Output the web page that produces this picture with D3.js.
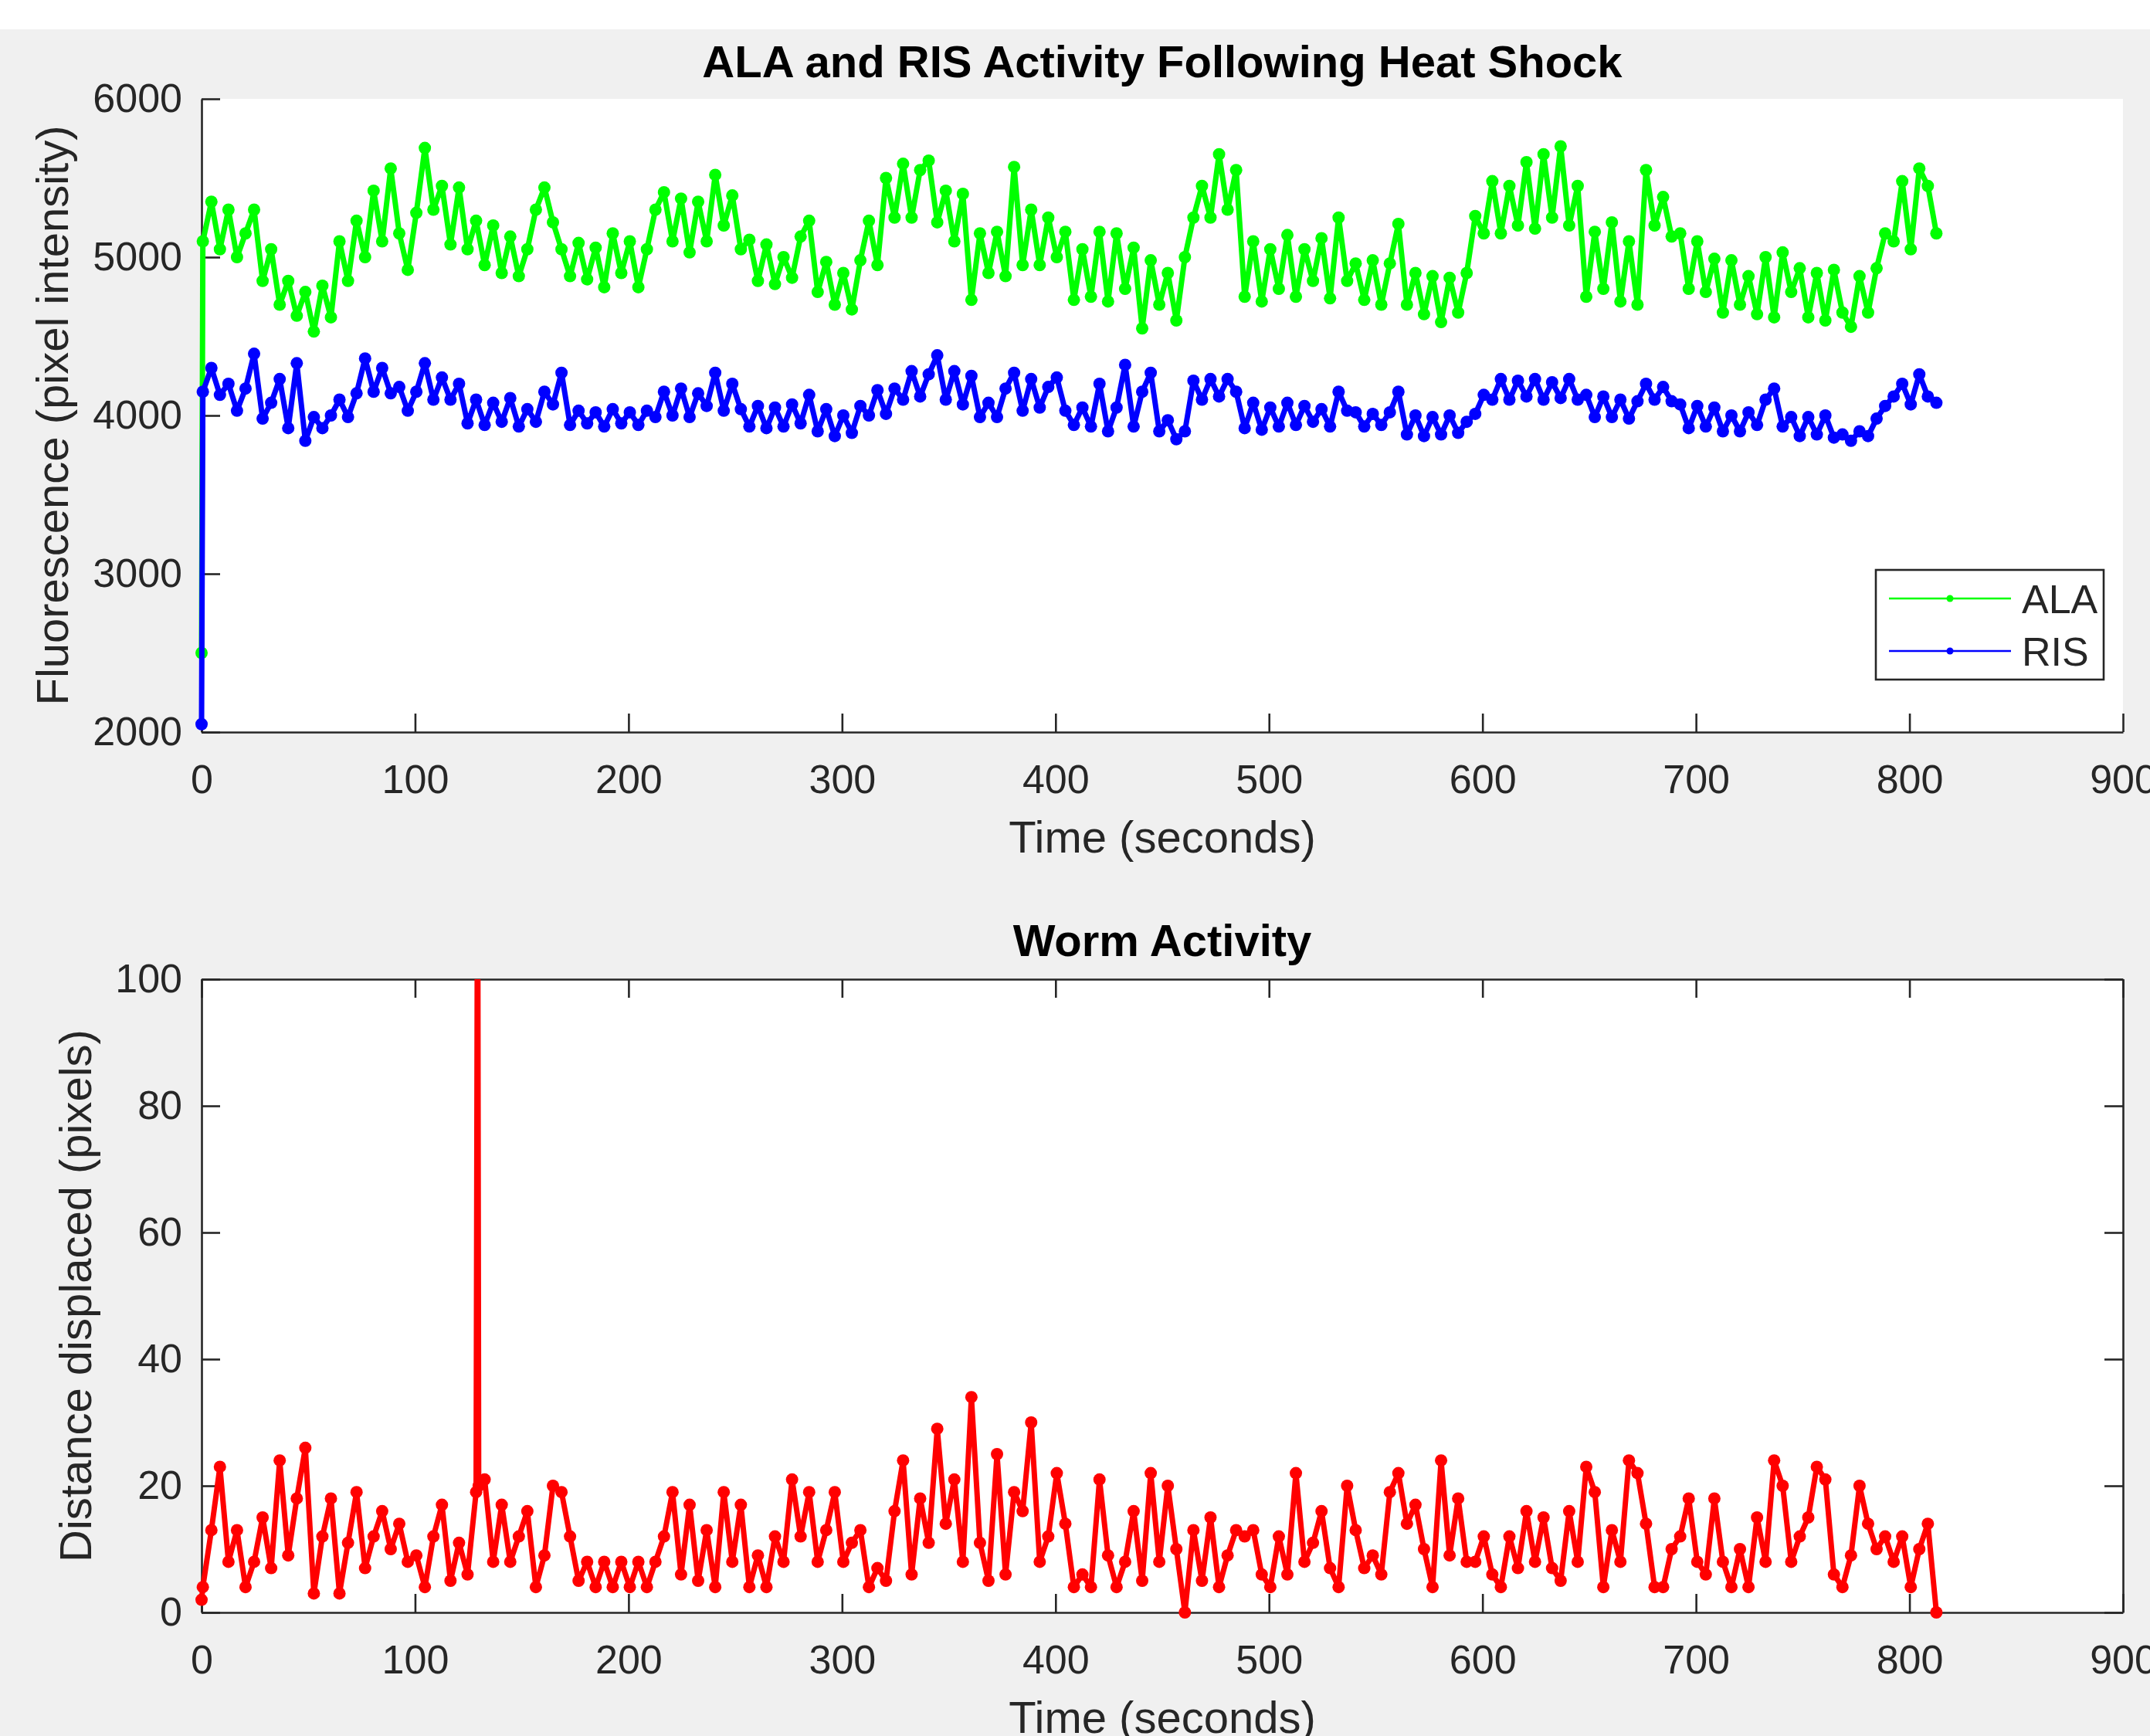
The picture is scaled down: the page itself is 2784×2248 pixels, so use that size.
<!DOCTYPE html>
<html>
<head>
<meta charset="utf-8">
<script src="https://cdn.jsdelivr.net/npm/d3@7"></script>
<style>
  body { margin: 0; background: #f0f0f0; }
  svg { display: block; }
</style>
</head>
<body>
<script>
// samples every 4 s starting at 0.6 s, plus a first sample at t = 0
const sampleStart = 0.6;
const sampleStep = 4;

const alaFirst = 2500;
const risFirst = 2050;
const wormFirst = 2;

const alaValues = [
  5100,5350,5050,5300,5000,5150,5300,4850,5050,4700,
  4850,4630,4780,4530,4820,4620,5100,4850,5230,5000,
  5420,5100,5560,5150,4920,5280,5690,5300,5450,5080,
  5440,5050,5230,4950,5200,4900,5130,4880,5050,5300,
  5440,5220,5050,4880,5090,4860,5060,4810,5150,4900,
  5100,4810,5050,5300,5410,5100,5370,5030,5350,5100,
  5520,5200,5390,5050,5110,4850,5080,4830,5000,4870,
  5130,5230,4780,4970,4700,4900,4670,4980,5230,4950,
  5500,5250,5590,5250,5550,5610,5220,5420,5100,5400,
  4730,5150,4900,5160,4880,5570,4950,5300,4950,5250,
  5000,5160,4730,5050,4750,5160,4720,5150,4800,5060,
  4550,4980,4700,4900,4600,5000,5250,5450,5250,5650,
  5300,5550,4750,5100,4720,5050,4800,5140,4750,5050,
  4850,5120,4740,5250,4850,4960,4730,4980,4700,4960,
  5210,4700,4900,4640,4880,4590,4870,4650,4900,5260,
  5150,5480,5150,5450,5200,5600,5180,5650,5250,5700,
  5200,5450,4750,5160,4800,5220,4720,5100,4700,5550,
  5200,5380,5130,5150,4800,5100,4780,4990,4650,4980,
  4700,4880,4640,5000,4620,5030,4780,4930,4620,4900,
  4600,4920,4650,4560,4880,4650,4930,5150,5100,5480,
  5050,5560,5450,5150
];

const risValues = [
  4150,4300,4130,4200,4030,4170,4390,3980,4080,4230,
  3920,4330,3840,3990,3920,4000,4100,3990,4140,4360,
  4150,4300,4140,4180,4030,4150,4330,4100,4240,4100,
  4200,3950,4100,3940,4080,3960,4110,3930,4040,3960,
  4150,4070,4270,3940,4030,3950,4020,3930,4040,3950,
  4020,3940,4030,3990,4150,4000,4170,3990,4140,4060,
  4270,4030,4200,4040,3930,4060,3920,4050,3930,4070,
  3950,4130,3900,4040,3870,4000,3890,4060,4000,4160,
  4010,4170,4100,4280,4120,4260,4380,4100,4280,4070,
  4250,3990,4080,3990,4170,4270,4030,4230,4050,4180,
  4240,4030,3940,4050,3930,4200,3900,4050,4320,3930,
  4150,4270,3900,3970,3850,3900,4220,4100,4230,4120,
  4230,4150,3920,4080,3910,4050,3930,4080,3940,4060,
  3960,4040,3930,4150,4030,4020,3930,4010,3940,4020,
  4150,3880,4000,3870,3990,3880,4000,3890,3960,4010,
  4130,4100,4230,4100,4220,4120,4230,4100,4210,4110,
  4230,4100,4130,3990,4120,3990,4100,3980,4090,4200,
  4100,4180,4090,4070,3920,4060,3930,4050,3900,4000,
  3900,4020,3940,4100,4170,3930,3990,3870,3990,3880,
  4000,3860,3880,3840,3900,3870,3980,4060,4120,4200,
  4070,4260,4120,4080
];

const wormValues = [
  4,13,23,8,13,4,8,15,7,24,
  9,18,26,3,12,18,3,11,19,7,
  12,16,10,14,8,9,4,12,17,5,
  11,6,19,21,8,17,8,12,16,4,
  9,20,19,12,5,8,4,8,4,8,
  4,8,4,8,12,19,6,17,5,13,
  4,19,8,17,4,9,4,12,8,21,
  12,19,8,13,19,8,11,13,4,7,
  5,16,24,6,18,11,29,14,21,8,
  34,11,5,25,6,19,16,30,8,12,
  22,14,4,6,4,21,9,4,8,16,
  5,22,8,20,10,0,13,5,15,4,
  9,13,12,13,6,4,12,6,22,8,
  11,16,7,4,20,13,7,9,6,19,
  22,14,17,10,4,24,9,18,8,8,
  12,6,4,12,7,16,8,15,7,5,
  16,8,23,19,4,13,8,24,22,14,
  4,4,10,12,18,8,6,18,8,4,
  10,4,15,8,24,20,8,12,15,23,
  21,6,4,9,20,14,10,12,8,12,
  4,10,14,0
];

// the single off-scale sample near 129 s (clipped at the top of the axes)
const wormSpike = [[129.3, 130], [129.8, 20]];

const xTicks = [0,100,200,300,400,500,600,700,800,900];
const fluoTicks = [2000,3000,4000,5000,6000];
const distTicks = [0,20,40,60,80,100];

const seriesNames = ["ALA", "RIS"];
const seriesColors = ["#00ff00", "#0000ff"];
const wormColor = "#ff0000";

const W = 2784, H = 2248;
const FONT = "'Liberation Sans', Arial, Helvetica, sans-serif";
const INK = "#262626";
const LW = 2.6, TICK = 24;
const dataLW = 7, dataDot = 8;

function buildSeries(first, values, extra) {
  var pts = [[0, first]];
  values.forEach(function(v, i) { pts.push([sampleStart + i * sampleStep, v]); });
  if (extra) pts = pts.concat(extra);
  pts.sort(function(a, b) { return a[0] - b[0]; });
  return pts;
}

const svg = d3.select("body").append("svg").attr("width", W).attr("height", H);
svg.append("rect").attr("width", W).attr("height", H).attr("fill", "#f0f0f0");
svg.append("rect").attr("width", W).attr("height", 38).attr("fill", "#ffffff");

const plotLeft = 261, plotRight = 2749;
const x = d3.scaleLinear().domain([0, 900]).range([plotLeft, plotRight]);
const yFluo = d3.scaleLinear().domain([2000, 6000]).range([948, 128]);
const yDist = d3.scaleLinear().domain([0, 100]).range([2088, 1268]);

function styleAxis(g) {
  g.attr("font-size", 52).attr("font-family", FONT).style("color", INK);
  g.selectAll("line, path").attr("stroke-width", LW);
}

function drawSeries(g, pts, xs, ys, color) {
  var line = d3.line().x(d => xs(d[0])).y(d => ys(d[1]));
  g.append("path").datum(pts)
    .attr("d", line).attr("fill", "none")
    .attr("stroke", color).attr("stroke-width", dataLW).attr("stroke-linejoin", "round");
  g.append("g").selectAll("circle").data(pts).enter().append("circle")
    .attr("cx", d => xs(d[0])).attr("cy", d => ys(d[1]))
    .attr("r", dataDot).attr("fill", color);
}

// ---------- top axes ----------
const fluoTop = yFluo.range()[1], fluoBot = yFluo.range()[0];
svg.append("rect").attr("x", plotLeft).attr("y", fluoTop).attr("width", plotRight - plotLeft).attr("height", fluoBot - fluoTop).attr("fill", "#fff");

svg.append("g").attr("transform", "translate(0," + fluoBot + ")")
  .call(d3.axisBottom(x).tickValues(xTicks).tickSizeInner(-TICK).tickSizeOuter(0).tickPadding(42))
  .call(styleAxis);
svg.append("g").attr("transform", "translate(" + plotLeft + ",0)")
  .call(d3.axisLeft(yFluo).tickValues(fluoTicks).tickFormat(d3.format("d")).tickSizeInner(-TICK).tickSizeOuter(0).tickPadding(25))
  .call(styleAxis);

var gTop = svg.append("g");
drawSeries(gTop, buildSeries(alaFirst, alaValues), x, yFluo, seriesColors[0]);
drawSeries(gTop, buildSeries(risFirst, risValues), x, yFluo, seriesColors[1]);

svg.append("text").attr("x", (plotLeft + plotRight) / 2).attr("y", 100)
  .attr("text-anchor", "middle").attr("font-family", FONT).attr("font-size", 58)
  .attr("font-weight", "bold").attr("fill", "#000")
  .text("ALA and RIS Activity Following Heat Shock");
svg.append("text").attr("x", (plotLeft + plotRight) / 2).attr("y", 1104)
  .attr("text-anchor", "middle").attr("font-family", FONT).attr("font-size", 58).attr("fill", INK)
  .text("Time (seconds)");
svg.append("text").attr("transform", "translate(88," + (fluoTop + fluoBot) / 2 + ") rotate(-90)")
  .attr("text-anchor", "middle").attr("font-family", FONT).attr("font-size", 58).attr("fill", INK)
  .text("Fluorescence (pixel intensity)");

// legend
var leg = svg.append("g").attr("font-family", FONT).attr("font-size", 52);
leg.append("rect").attr("x", 2429).attr("y", 738).attr("width", 295).attr("height", 142)
  .attr("fill", "#fff").attr("stroke", INK).attr("stroke-width", LW);
seriesNames.forEach(function(name, i) {
  var ly = 775 + i * 68;
  leg.append("line").attr("x1", 2446).attr("x2", 2604).attr("y1", ly).attr("y2", ly)
    .attr("stroke", seriesColors[i]).attr("stroke-width", LW);
  leg.append("circle").attr("cx", 2525).attr("cy", ly).attr("r", 4.5).attr("fill", seriesColors[i]);
  leg.append("text").attr("x", 2618).attr("y", ly + 19).attr("fill", INK).text(name);
});

// ---------- bottom axes ----------
const distTop = yDist.range()[1], distBot = yDist.range()[0];
svg.append("rect").attr("x", plotLeft).attr("y", distTop).attr("width", plotRight - plotLeft).attr("height", distBot - distTop).attr("fill", "#fff");

svg.append("g").attr("transform", "translate(0," + distBot + ")")
  .call(d3.axisBottom(x).tickValues(xTicks).tickSizeInner(-TICK).tickSizeOuter(0).tickPadding(42))
  .call(styleAxis);
svg.append("g").attr("transform", "translate(0," + distTop + ")")
  .call(d3.axisTop(x).tickValues(xTicks).tickFormat("").tickSizeInner(-TICK).tickSizeOuter(0))
  .call(styleAxis);
svg.append("g").attr("transform", "translate(" + plotLeft + ",0)")
  .call(d3.axisLeft(yDist).tickValues(distTicks).tickSizeInner(-TICK).tickSizeOuter(0).tickPadding(25))
  .call(styleAxis);
svg.append("g").attr("transform", "translate(" + plotRight + ",0)")
  .call(d3.axisRight(yDist).tickValues(distTicks).tickFormat("").tickSizeInner(-TICK).tickSizeOuter(0))
  .call(styleAxis);

svg.append("clipPath").attr("id", "clipWorm").append("rect")
  .attr("x", plotLeft - 20).attr("y", distTop).attr("width", plotRight - plotLeft + 40).attr("height", distBot - distTop + 20);
var gBot = svg.append("g").attr("clip-path", "url(#clipWorm)");
drawSeries(gBot, buildSeries(wormFirst, wormValues, wormSpike), x, yDist, wormColor);

svg.append("text").attr("x", (plotLeft + plotRight) / 2).attr("y", 1238)
  .attr("text-anchor", "middle").attr("font-family", FONT).attr("font-size", 58)
  .attr("font-weight", "bold").attr("fill", "#000")
  .text("Worm Activity");
svg.append("text").attr("x", (plotLeft + plotRight) / 2).attr("y", 2244)
  .attr("text-anchor", "middle").attr("font-family", FONT).attr("font-size", 58).attr("fill", INK)
  .text("Time (seconds)");
svg.append("text").attr("transform", "translate(118," + (distTop + distBot) / 2 + ") rotate(-90)")
  .attr("text-anchor", "middle").attr("font-family", FONT).attr("font-size", 58).attr("fill", INK)
  .text("Distance displaced (pixels)");
</script>
</body>
</html>
